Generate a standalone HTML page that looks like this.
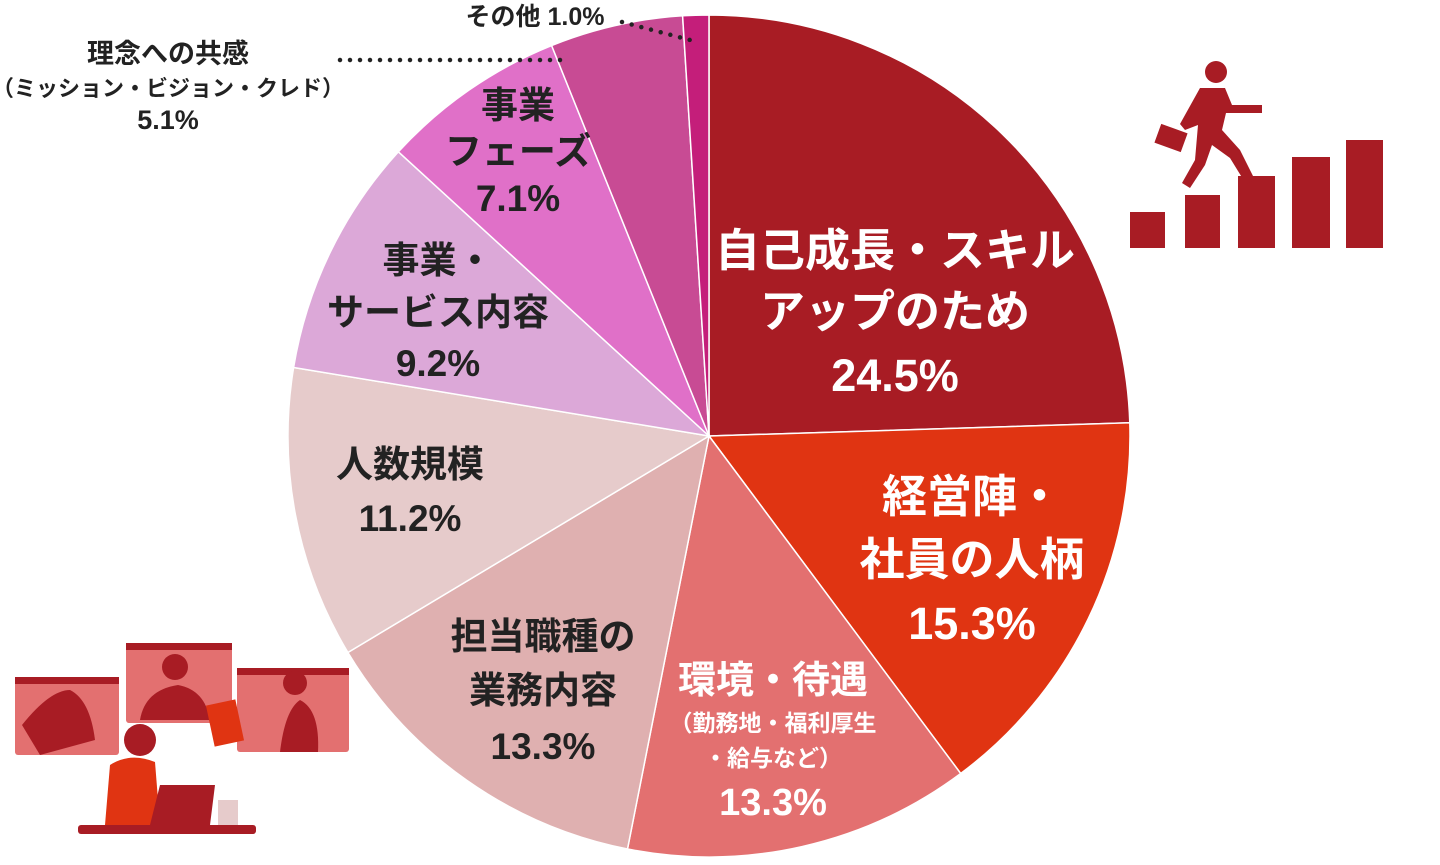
<!DOCTYPE html>
<html><head><meta charset="utf-8"><style>
html,body{margin:0;padding:0;background:#fff;}
svg text{font-family:"Liberation Sans","Noto Sans CJK JP",sans-serif;font-weight:bold;text-anchor:middle;}
</style></head><body>
<svg width="1440" height="860" viewBox="0 0 1440 860" xmlns="http://www.w3.org/2000/svg">
<g stroke="#fff" stroke-width="1.5">
<path d="M709 436 L709 15 A421 421 0 0 1 1129.8 422.8 Z" fill="#a81c24"/>
<path d="M709 436 L1129.8 422.8 A421 421 0 0 1 960.7 773.5 Z" fill="#e03412"/>
<path d="M709 436 L960.7 773.5 A421 421 0 0 1 627.5 849 Z" fill="#e37070"/>
<path d="M709 436 L627.5 849 A421 421 0 0 1 347.9 652.5 Z" fill="#dfb0b0"/>
<path d="M709 436 L347.9 652.5 A421 421 0 0 1 293.6 367.5 Z" fill="#e6cbcb"/>
<path d="M709 436 L293.6 367.5 A421 421 0 0 1 398.4 151.8 Z" fill="#dca8d8"/>
<path d="M709 436 L398.4 151.8 A421 421 0 0 1 551.6 45.5 Z" fill="#e070c8"/>
<path d="M709 436 L551.6 45.5 A421 421 0 0 1 682.6 15.8 Z" fill="#c84b94"/>
<path d="M709 436 L682.6 15.8 A421 421 0 0 1 709 15 Z" fill="#c41e7a"/>
</g>
<g fill="#fff" font-size="45">
<text x="895" y="266">自己成長・スキル</text>
<text x="895" y="327">アップのため</text>
<text x="895" y="391">24.5%</text>
<text x="972" y="512">経営陣・</text>
<text x="972" y="575">社員の人柄</text>
<text x="972" y="639">15.3%</text>
<text x="773" y="693" font-size="38">環境・待遇</text>
<text x="773" y="731" font-size="23">（勤務地・福利厚生</text>
<text x="773" y="766" font-size="23">・給与など）</text>
<text x="773" y="815" font-size="38">13.3%</text>
</g>
<g fill="#222" font-size="37">
<text x="543" y="649">担当職種の</text>
<text x="543" y="703">業務内容</text>
<text x="543" y="759">13.3%</text>
<text x="410" y="477">人数規模</text>
<text x="410" y="531">11.2%</text>
<text x="438" y="273">事業・</text>
<text x="438" y="325">サービス内容</text>
<text x="438" y="376">9.2%</text>
<text x="518" y="118">事業</text>
<text x="518" y="164">フェーズ</text>
<text x="518" y="211">7.1%</text>
</g>
<g fill="#222">
<text x="168" y="63" font-size="27">理念への共感</text>
<text x="168" y="96" font-size="22">（ミッション・ビジョン・クレド）</text>
<text x="168" y="129" font-size="27">5.1%</text>
<text x="535" y="25" font-size="25">その他 1.0%</text>
</g>
<path d="M340 60 L570 60" stroke="#222" stroke-width="4.5" stroke-linecap="round" stroke-dasharray="0 10"/>
<path d="M622 22 L690 40" stroke="#222" stroke-width="4.5" stroke-linecap="round" stroke-dasharray="0 10"/>
<!-- stairs icon -->
<g fill="#a81c24">
<rect x="1130" y="212" width="35" height="36"/>
<rect x="1185" y="195" width="35" height="53"/>
<rect x="1238" y="176" width="37" height="72"/>
<rect x="1292" y="157" width="38" height="91"/>
<rect x="1346" y="140" width="37" height="108"/>
<circle cx="1216" cy="72" r="11"/>
<path d="M1200 88 L1225 88 L1232 105 L1262 105 L1262 113 L1226 113 L1222 130 L1240 150 L1255 180 L1246 184 L1230 158 L1212 145 L1205 165 L1190 188 L1182 183 L1195 160 L1198 125 L1185 130 L1180 124 Z"/>
<rect x="1157" y="128" width="28" height="20" transform="rotate(20 1171 138)"/>
</g>
<!-- people illustration -->
<g>
<rect x="15" y="677" width="104" height="78" rx="3" fill="#e37070"/>
<rect x="15" y="677" width="104" height="7" fill="#a81c24"/>
<rect x="126" y="643" width="106" height="80" rx="3" fill="#e37070"/>
<rect x="126" y="643" width="106" height="7" fill="#a81c24"/>
<rect x="237" y="668" width="112" height="84" rx="3" fill="#e37070"/>
<rect x="237" y="668" width="112" height="7" fill="#a81c24"/>
<path d="M22 725 Q50 690 70 690 Q90 700 95 740 L40 755 Z" fill="#a81c24"/>
<rect x="62" y="727" width="55" height="28" fill="#e03412" transform="skewX(-10)"/>
<path d="M140 720 Q145 690 178 685 Q205 690 210 720 Z" fill="#a81c24"/>
<circle cx="175" cy="667" r="13" fill="#a81c24"/>
<path d="M280 752 Q285 710 300 700 Q320 710 318 752 Z" fill="#a81c24"/>
<circle cx="295" cy="683" r="12" fill="#a81c24"/>
<rect x="210" y="702" width="30" height="42" fill="#e03412" transform="rotate(-12 225 723)"/>
<rect x="78" y="825" width="178" height="9" rx="3" fill="#a81c24"/>
<path d="M105 825 L110 765 Q130 752 155 762 L160 825 Z" fill="#e03412"/>
<circle cx="140" cy="740" r="16" fill="#a81c24"/>
<path d="M150 825 L160 785 L215 785 L210 825 Z" fill="#a81c24"/>
<rect x="218" y="800" width="20" height="25" fill="#e6cbcb"/>
</g>
</svg>
</body></html>
